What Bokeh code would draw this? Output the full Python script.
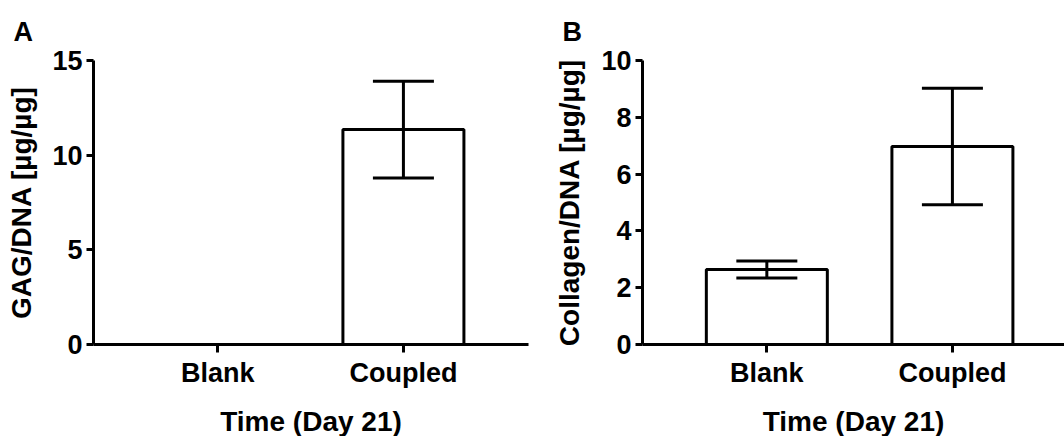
from bokeh.plotting import figure
from bokeh.models import Range1d, FixedTicker, Whisker, TeeHead, ColumnDataSource
from bokeh.layouts import row
from bokeh.embed import file_html
from bokeh.resources import INLINE

# ---- data ----
categories = ["Blank", "Coupled"]
gag_mean = [0.0, 11.35]
gag_err = [0.0, 2.55]
collagen_mean = [2.64, 6.97]
collagen_err = [0.30, 2.05]
gag_ticks = [0, 5, 10, 15]
collagen_ticks = [0, 2, 4, 6, 8, 10]
x_title = "Time (Day 21)"

FONT = "Liberation Sans"


def make_panel(letter, ylabel, means, errs, ymax, yticks, frame_w, x_end,
               border_left, border_right, ylabel_standoff):
    xs = list(range(1, len(categories) + 1))
    p = figure(frame_width=frame_w, frame_height=284,
               x_range=Range1d(0.33, x_end), y_range=Range1d(0, ymax),
               output_backend="svg", toolbar_location=None,
               min_border_left=border_left, min_border_right=border_right,
               min_border_top=60, min_border_bottom=0,
               title=letter)
    p.outline_line_color = None
    p.xgrid.visible = False
    p.ygrid.visible = False
    p.background_fill_color = "white"
    p.border_fill_color = "white"

    # bars (only where a value exists)
    bx = [x for x, m in zip(xs, means) if m > 0]
    bm = [m for m in means if m > 0]
    be = [e for m, e in zip(means, errs) if m > 0]
    src = ColumnDataSource(dict(x=bx, top=bm,
                                upper=[m + e for m, e in zip(bm, be)],
                                lower=[m - e for m, e in zip(bm, be)]))
    p.vbar(x="x", top="top", bottom=0, width=0.652, source=src,
           fill_color="white", line_color="black", line_width=3)
    w = Whisker(base="x", upper="upper", lower="lower", source=src,
                line_color="black", line_width=3, level="annotation",
                upper_head=TeeHead(size=61, line_color="black", line_width=3),
                lower_head=TeeHead(size=61, line_color="black", line_width=3))
    p.add_layout(w)

    # axes
    for ax in (p.xaxis[0], p.yaxis[0]):
        ax.axis_line_width = 3
        ax.axis_line_color = "black"
        ax.major_tick_line_width = 3
        ax.major_tick_line_color = "black"
        ax.major_tick_in = 0
        ax.minor_tick_line_color = None
        ax.major_label_text_font = FONT
        ax.major_label_text_font_style = "bold"
        ax.major_label_text_font_size = "27px"
        ax.major_label_text_color = "black"
        ax.axis_label_text_font = FONT
        ax.axis_label_text_font_style = "bold"
        ax.axis_label_text_font_size = "28px"
        ax.axis_label_text_color = "black"

    xa = p.xaxis[0]
    xa.ticker = FixedTicker(ticks=xs)
    xa.major_label_overrides = {x: c for x, c in zip(xs, categories)}
    xa.major_tick_out = 8
    xa.major_label_standoff = 5
    xa.axis_label = x_title
    xa.axis_label_standoff = 15

    ya = p.yaxis[0]
    ya.ticker = FixedTicker(ticks=yticks)
    ya.major_tick_out = 7
    ya.major_label_standoff = 4
    ya.axis_label = ylabel
    ya.axis_label_standoff = ylabel_standoff

    p.title.text_font = FONT
    p.title.text_font_style = "bold"
    p.title.text_font_size = "27px"
    p.title.text_color = "black"
    p.title.align = "left"
    p.title.offset = -80
    p.title.standoff = 27
    return p


pa = make_panel("A", "GAG/DNA [µg/µg]", gag_mean, gag_err, 15, gag_ticks,
                435, 2.674, 93, 10, 12)
pb = make_panel("B", "Collagen/DNA [µg/µg]", collagen_mean, collagen_err, 10,
                collagen_ticks, 422, 2.604, 104, 0, 13)

layout = row(pa, pb)
open("out.html", "w").write(file_html(layout, INLINE))
